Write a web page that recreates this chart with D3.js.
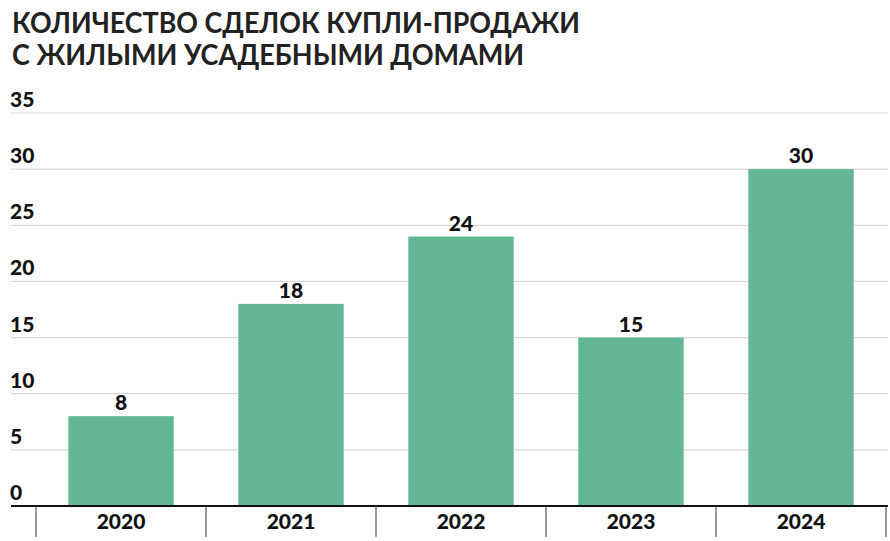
<!DOCTYPE html>
<html>
<head>
<meta charset="utf-8">
<script src="https://cdn.jsdelivr.net/npm/d3@7"></script>
<style>
  body { margin: 0; background: #fff; }
  svg { display: block; }
</style>
</head>
<body>
<svg id="chart" width="890" height="541"></svg>
<script>
// data
const years = ["2020", "2021", "2022", "2023", "2024"];
const deals = [8, 18, 24, 15, 30];
const yTicks = [0, 5, 10, 15, 20, 25, 30, 35];
const titleLines = ["КОЛИЧЕСТВО СДЕЛОК КУПЛИ-ПРОДАЖИ", "С ЖИЛЫМИ УСАДЕБНЫМИ ДОМАМИ"];
const titleWidths = [568, 512];

const svg = d3.select("#chart");
const gridLeft = 11, gridRight = 888;
const plotLeft = 36, plotRight = 886;
const yBase = 506, yTop = 113;
const barColor = "#63b795";
const labelFont = "Lato, 'DejaVu Sans', sans-serif";

// title
svg.append("g")
  .selectAll("text")
  .data(titleLines)
  .enter()
  .append("text")
  .attr("x", 12)
  .attr("y", (d, i) => 33 + i * 32)
  .attr("textLength", (d, i) => titleWidths[i])
  .attr("lengthAdjust", "spacingAndGlyphs")
  .style("font-family", "'Lato', 'DejaVu Sans', sans-serif")
  .style("font-weight", "bold")
  .style("font-size", "29px")
  .style("fill", "#222")
  .text(d => d);

const y = d3.scaleLinear().domain([0, 35]).range([yBase, yTop]);
const x = d3.scaleBand().domain(years).range([plotLeft, plotRight]).paddingInner(0.38).paddingOuter(0.19);

// gridlines
svg.append("g")
  .selectAll("line")
  .data(yTicks.filter(t => t > 0))
  .enter()
  .append("line")
  .attr("x1", gridLeft)
  .attr("x2", gridRight)
  .attr("y1", d => y(d))
  .attr("y2", d => y(d))
  .style("stroke", "#d9d9d9")
  .style("stroke-width", 1.2);

// y tick labels sit above their gridlines
svg.append("g")
  .selectAll("text")
  .data(yTicks)
  .enter()
  .append("text")
  .attr("x", gridLeft - 1)
  .attr("y", d => y(d) - 6)
  .style("font-family", labelFont)
  .style("font-weight", "900")
  .style("font-size", "21px")
  .style("fill", "#111")
  .text(d => d);

// bars
svg.append("g")
  .selectAll("rect")
  .data(deals)
  .enter()
  .append("rect")
  .attr("x", (d, i) => x(years[i]))
  .attr("y", d => y(d))
  .attr("width", x.bandwidth())
  .attr("height", d => yBase - y(d))
  .style("fill", barColor);

// value labels
svg.append("g")
  .selectAll("text")
  .data(deals)
  .enter()
  .append("text")
  .attr("x", (d, i) => x(years[i]) + x.bandwidth() / 2)
  .attr("y", d => y(d) - 6)
  .attr("text-anchor", "middle")
  .style("font-family", labelFont)
  .style("font-weight", "900")
  .style("font-size", "21px")
  .style("fill", "#111")
  .text(d => d);

// x axis baseline
svg.append("line")
  .attr("x1", gridLeft)
  .attr("x2", gridRight)
  .attr("y1", yBase)
  .attr("y2", yBase)
  .style("stroke", "#111")
  .style("stroke-width", 2);

// category separators
const step = x.step();
const seps = years.map(yr => x(yr) - x.paddingOuter() * step).concat([plotRight]);
svg.append("g")
  .selectAll("line")
  .data(seps)
  .enter()
  .append("line")
  .attr("x1", d => d)
  .attr("x2", d => d)
  .attr("y1", yBase)
  .attr("y2", 537)
  .style("stroke", "#555")
  .style("stroke-width", 1.2);

// year labels
svg.append("g")
  .selectAll("text")
  .data(years)
  .enter()
  .append("text")
  .attr("x", d => x(d) + x.bandwidth() / 2)
  .attr("y", 529)
  .attr("text-anchor", "middle")
  .style("font-family", labelFont)
  .style("font-weight", "900")
  .style("font-size", "21px")
  .style("fill", "#111")
  .text(d => d);
</script>
</body>
</html>
